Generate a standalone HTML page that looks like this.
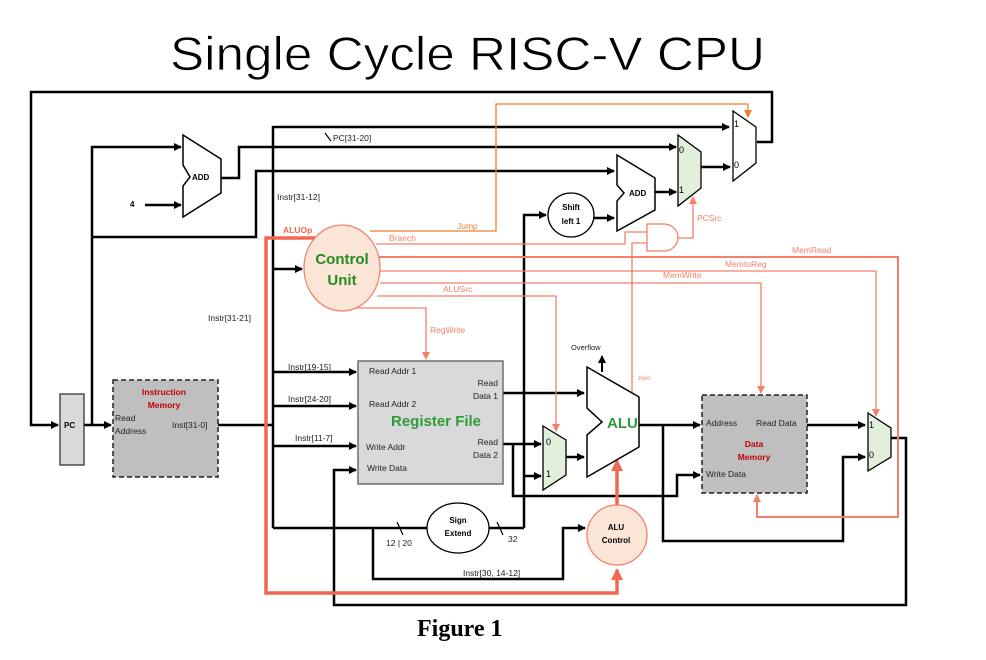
<!DOCTYPE html>
<html><head><meta charset="utf-8"><style>
html,body{margin:0;padding:0;background:#fff}
svg{display:block}
text{font-family:"Liberation Sans",sans-serif}
</style></head><body>
<svg width="986" height="660" viewBox="0 0 986 660" xmlns="http://www.w3.org/2000/svg">
<defs>
<marker id="ab" markerWidth="8" markerHeight="8" refX="7" refY="4" orient="auto" markerUnits="userSpaceOnUse"><path d="M0,0 L8,4 L0,8 z" fill="#000"/></marker>
<marker id="ar" markerWidth="8" markerHeight="8" refX="7" refY="4" orient="auto" markerUnits="userSpaceOnUse"><path d="M0,0 L8,4 L0,8 z" fill="#f4806a"/></marker>
<marker id="ao" markerWidth="8" markerHeight="8" refX="7" refY="4" orient="auto" markerUnits="userSpaceOnUse"><path d="M0,0 L8,4 L0,8 z" fill="#ed7d31"/></marker>
<marker id="at" markerWidth="12" markerHeight="12" refX="10" refY="6" orient="auto" markerUnits="userSpaceOnUse"><path d="M0,0 L12,6 L0,12 z" fill="#f0684f"/></marker>
</defs>

<text x="170" y="70" font-size="47" textLength="595" lengthAdjust="spacingAndGlyphs" fill="#000" stroke="#fff" stroke-width="0.8">Single Cycle RISC-V CPU</text>

<g fill="none" stroke="#000" stroke-width="2.5">
<polyline points="757,142 772,142 772,92 31,92 31,425 58,425" marker-end="url(#ab)"/>
<polyline points="84,425 111,425" marker-end="url(#ab)"/>
<polyline points="92,425 92,147 181,147" marker-end="url(#ab)"/>
<polyline points="92,237 256,237 256,171 614,171" marker-end="url(#ab)"/>
<polyline points="145,205 181,205" marker-end="url(#ab)"/>
<polyline points="221,178 239,178 239,147 676,147" marker-end="url(#ab)"/>
<polyline points="218,425 273,425"/>
<polyline points="273,126 273,528"/>
<polyline points="273,127 729,127" marker-end="url(#ab)"/>
<polyline points="273,269 302,269" marker-end="url(#ab)"/>
<polyline points="273,372 356,372" marker-end="url(#ab)"/>
<polyline points="273,406 356,406" marker-end="url(#ab)"/>
<polyline points="273,446 356,446" marker-end="url(#ab)"/>
<polyline points="273,528 428,528"/>
<polyline points="489,528 524,528"/>
<polyline points="524,528 524,215 546,215" marker-end="url(#ab)"/>
<polyline points="524,476 541,476" marker-end="url(#ab)"/>
<polyline points="594,218 614,218" marker-end="url(#ab)"/>
<polyline points="655,192 676,192" marker-end="url(#ab)"/>
<polyline points="701,167 730,167" marker-end="url(#ab)"/>
<polyline points="373,528 373,579 563,579 563,528 585,528" marker-end="url(#ab)"/>
<polyline points="503,393 584,393" marker-end="url(#ab)"/>
<polyline points="503,444 541,444" marker-end="url(#ab)"/>
<polyline points="513,444 513,496 677,496 677,475 700,475" marker-end="url(#ab)"/>
<polyline points="566,457 584,457" marker-end="url(#ab)"/>
<polyline points="639,425 700,425" marker-end="url(#ab)"/>
<polyline points="663,425 663,541 843,541 843,457 865,457" marker-end="url(#ab)"/>
<polyline points="807,425 865,425" marker-end="url(#ab)"/>
<polyline points="891,438 906,438 906,605 334,605 334,470 356,470" marker-end="url(#ab)"/>
<polyline points="602,372 602,356" stroke-width="2" marker-end="url(#ab)"/>
</g>
<g stroke="#000" stroke-width="1.2">
<line x1="325" y1="133" x2="331" y2="141"/>
<line x1="397" y1="522" x2="403" y2="535"/>
<line x1="497" y1="522" x2="503" y2="535"/>
</g>

<g fill="none" stroke="#f4806a" stroke-width="1.3">
<polyline points="376,244 625,244 625,232 648,232"/>
<polyline points="632,394 632,243 648,243"/>
<polyline points="678,238 693,238 693,197" marker-end="url(#ar)"/>
<polyline points="379,257 898,257 898,517 757,517 757,495" marker-end="url(#ar)" stroke-width="2"/>
<polyline points="380,271 876,271 876,416" marker-end="url(#ar)"/>
<polyline points="380,283 761,283 761,393" marker-end="url(#ar)"/>
<polyline points="377,296 556,296 556,431" marker-end="url(#ar)"/>
<polyline points="355,308 426,308 426,359" marker-end="url(#ar)"/>
</g>
<polyline points="370,231 496,231 496,104 748,104 748,117" fill="none" stroke="#ed7d31" stroke-width="1.3" marker-end="url(#ao)"/>
<polyline points="315,238 266,238 266,593 617,593 617,570" fill="none" stroke="#f0684f" stroke-width="3.5" marker-end="url(#at)"/>
<polyline points="617,505 617,461" fill="none" stroke="#f0684f" stroke-width="3.5" marker-end="url(#at)"/>

<path d="M647,224 L664,224 A14,13.5 0 0 1 664,251 L647,251 Z" fill="#fff" stroke="#f4806a" stroke-width="1.3"/>

<rect x="60" y="394" width="24" height="71" fill="#d9d9d9" stroke="#333" stroke-width="1.3"/>
<text x="64" y="428" font-size="8" font-weight="bold">PC</text>

<rect x="113" y="380" width="105" height="97" fill="#bfbfbf" stroke="#222" stroke-width="1.5" stroke-dasharray="5,3"/>
<text x="164" y="395" font-size="8.5" font-weight="bold" fill="#c00000" text-anchor="middle">Instruction</text>
<text x="164" y="408" font-size="8.5" font-weight="bold" fill="#c00000" text-anchor="middle">Memory</text>
<text x="115" y="421" font-size="8.5" fill="#222">Read</text>
<text x="115" y="434" font-size="8.5" fill="#222">Address</text>
<text x="172" y="428" font-size="8.5" fill="#222">Inst[31-0]</text>

<polygon points="183,135 221,159 221,193 183,217 183,186 190,177 183,165" fill="#fff" stroke="#000" stroke-width="1.5"/>
<text x="192" y="180" font-size="8" font-weight="bold">ADD</text>
<text x="130" y="207" font-size="8" font-weight="bold">4</text>

<polygon points="617,155 655,178 655,210 617,231 617,201 624,193 617,185" fill="#fff" stroke="#000" stroke-width="1.5"/>
<text x="629" y="196" font-size="8" font-weight="bold">ADD</text>

<ellipse cx="571" cy="215" rx="23" ry="22" fill="#fff" stroke="#000" stroke-width="1.3"/>
<text x="571" y="210" font-size="8" font-weight="bold" text-anchor="middle">Shift</text>
<text x="571" y="224" font-size="8" font-weight="bold" text-anchor="middle">left 1</text>

<polygon points="678,135 701,152 701,188 678,206" fill="#e2efda" stroke="#000" stroke-width="1.3"/>
<text x="679" y="153" font-size="9">0</text><text x="679" y="193" font-size="9">1</text>
<polygon points="733,111 756,127 756,163 733,181" fill="#fff" stroke="#000" stroke-width="1.3"/>
<text x="734" y="127" font-size="9">1</text><text x="734" y="168" font-size="9">0</text>
<polygon points="543,426 566,440 566,475 543,490" fill="#e2efda" stroke="#000" stroke-width="1.3"/>
<text x="546" y="445" font-size="9">0</text><text x="546" y="477" font-size="9">1</text>
<polygon points="868,413 891,428 891,457 868,471" fill="#e2efda" stroke="#000" stroke-width="1.3"/>
<text x="869" y="428" font-size="9">1</text><text x="869" y="458" font-size="9">0</text>

<ellipse cx="342" cy="268" rx="38" ry="43" fill="#fbe5d6" stroke="#f4806a" stroke-width="1.3"/>
<text x="342" y="264" font-size="15" font-weight="bold" fill="#228b22" text-anchor="middle">Control</text>
<text x="342" y="285" font-size="15" font-weight="bold" fill="#228b22" text-anchor="middle">Unit</text>

<rect x="358" y="361" width="145" height="123" fill="#d9d9d9" stroke="#595959" stroke-width="1.3"/>
<text x="369" y="374" font-size="8.5" fill="#222">Read Addr 1</text>
<text x="369" y="407" font-size="8.5" fill="#222">Read Addr 2</text>
<text x="391" y="426" font-size="15" font-weight="bold" fill="#2e9a3a">Register File</text>
<text x="366" y="450" font-size="8.5" fill="#222">Write Addr</text>
<text x="367" y="471" font-size="8.5" fill="#222">Write Data</text>
<text x="498" y="386" font-size="8.5" fill="#222" text-anchor="end">Read</text>
<text x="498" y="399" font-size="8.5" fill="#222" text-anchor="end">Data 1</text>
<text x="498" y="445" font-size="8.5" fill="#222" text-anchor="end">Read</text>
<text x="498" y="458" font-size="8.5" fill="#222" text-anchor="end">Data 2</text>

<ellipse cx="458" cy="528" rx="31" ry="25" fill="#fff" stroke="#000" stroke-width="1.3"/>
<text x="458" y="523" font-size="8" font-weight="bold" text-anchor="middle">Sign</text>
<text x="458" y="536" font-size="8" font-weight="bold" text-anchor="middle">Extend</text>

<polygon points="587,367 639,397 639,447 587,477 587,435 602,422 587,408" fill="#fff" stroke="#000" stroke-width="1.5"/>
<text x="607" y="428" font-size="15" font-weight="bold" fill="#2e9a3a">ALU</text>

<circle cx="617" cy="535" r="30" fill="#fbe5d6" stroke="#f4806a" stroke-width="1.3"/>
<text x="616" y="530" font-size="8" font-weight="bold" text-anchor="middle">ALU</text>
<text x="616" y="543" font-size="8" font-weight="bold" text-anchor="middle">Control</text>

<rect x="702" y="395" width="105" height="98" fill="#bfbfbf" stroke="#222" stroke-width="1.5" stroke-dasharray="5,3"/>
<text x="706" y="426" font-size="8.5" fill="#222">Address</text>
<text x="756" y="426" font-size="8.5" fill="#222">Read Data</text>
<text x="754" y="447" font-size="8.5" font-weight="bold" fill="#c00000" text-anchor="middle">Data</text>
<text x="754" y="460" font-size="8.5" font-weight="bold" fill="#c00000" text-anchor="middle">Memory</text>
<text x="706" y="477" font-size="8.5" fill="#222">Write Data</text>

<g font-size="8.5" fill="#222">
<text x="333" y="141">PC[31-20]</text>
<text x="277" y="200">Instr[31-12]</text>
<text x="208" y="321">Instr[31-21]</text>
<text x="288" y="370">Instr[19-15]</text>
<text x="288" y="402">Instr[24-20]</text>
<text x="295" y="441">Instr[11-7]</text>
<text x="386" y="546">12 | 20</text>
<text x="508" y="542">32</text>
<text x="463" y="576">Instr[30,  14-12]</text>
<text x="571" y="350" font-size="7.5">Overflow</text>
</g>
<g font-size="8.5" fill="#f4806a">
<text x="283" y="233" font-weight="bold" fill="#f0684f">ALUOp</text>
<text x="457" y="229" fill="#ed7d31">Jump</text>
<text x="389" y="241">Branch</text>
<text x="443" y="292">ALUSrc</text>
<text x="430" y="333">RegWrite</text>
<text x="697" y="221">PCSrc</text>
<text x="792" y="253">MemRead</text>
<text x="725" y="267">MemtoReg</text>
<text x="663" y="278">MemWrite</text>
<text x="638" y="380" font-size="6.5">zero</text>
</g>

<text x="417" y="636" font-size="24" font-weight="bold" style="font-family:'Liberation Serif',serif">Figure 1</text>
</svg>
</body></html>
